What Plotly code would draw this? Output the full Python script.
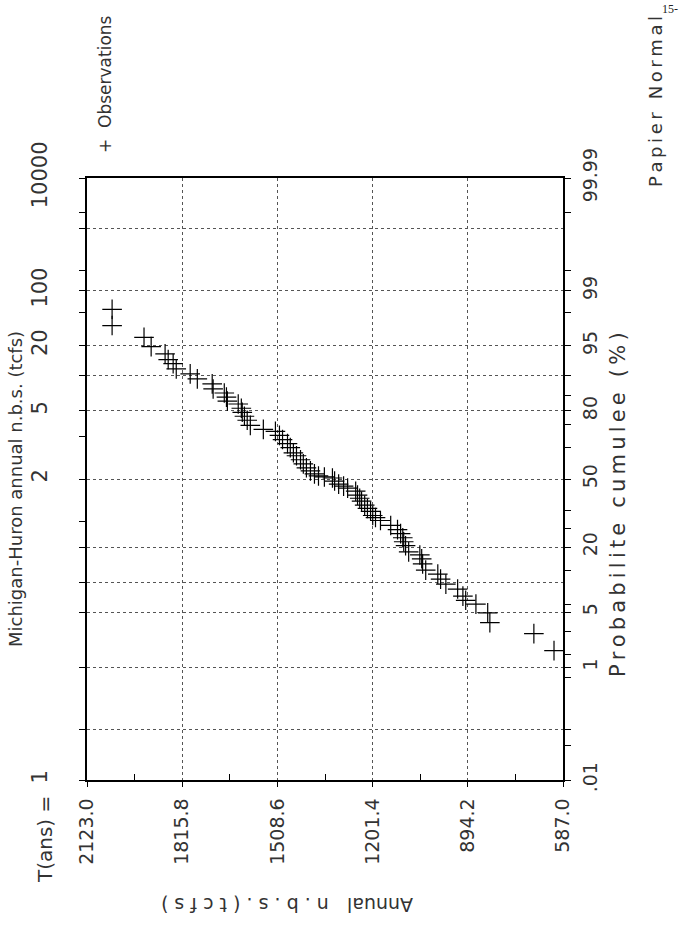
import plotly.graph_objects as go
from statistics import NormalDist

# ---------------- data ----------------
nbs_values = [2042, 2042, 1939, 1916, 1871, 1861, 1845, 1835, 1790, 1767,
              1719, 1716, 1680, 1673, 1670, 1635, 1625, 1622, 1615, 1606,
              1596, 1554, 1515, 1502, 1492, 1476, 1467, 1457, 1447, 1434,
              1425, 1415, 1402, 1389, 1376, 1357, 1331, 1324, 1311, 1295,
              1282, 1256, 1250, 1243, 1237, 1227, 1218, 1208, 1201, 1192,
              1176, 1143, 1121, 1111, 1104, 1101, 1095, 1085, 1049, 1043,
              1040, 1030, 991, 982, 965, 927, 910, 901, 868, 830,
              823, 681, 616]
prob_pct = [98.2, 97.1, 96.0, 94.9, 93.9, 93.0, 92.3, 91.3, 90.3, 89.2,
            88.0, 86.7, 85.6, 84.4, 83.2, 82.3, 80.9, 79.5, 78.1, 76.6,
            74.6, 73.0, 72.2, 70.5, 68.7, 66.9, 65.1, 62.7, 61.3, 59.4,
            57.4, 55.5, 54.0, 52.5, 51.5, 51.0, 50.5, 49.0, 47.5, 46.5,
            45.5, 44.0, 42.1, 40.6, 39.2, 37.3, 35.8, 34.5, 32.6, 31.7,
            30.4, 28.3, 26.6, 25.0, 23.4, 21.9, 20.5, 18.4, 17.4, 16.2,
            14.7, 13.0, 12.0, 10.8, 9.7, 8.7, 7.4, 6.7, 6.1, 4.9,
            3.8, 2.8, 1.7]

x_ticks = [2123.0, 1815.8, 1508.6, 1201.4, 894.2, 587.0]
prob_labels = [99.99, 99, 95, 80, 50, 20, 5, 1, 0.01]
prob_label_text = ["99.99", "99", "95", "80", "50", "20", "5", "1", ".01"]
prob_grid = [99.9, 99, 95, 90, 80, 50, 20, 10, 5, 1, 0.1]
prob_minor = [99.95, 99.5, 98, 90, 85, 75, 65, 35, 27, 13, 6, 3, 1.5, 0.7, 0.1, 0.05]
T_text = ["10000", "100", "20", "5", "2", "1"]
T_prob = [99.99, 99, 95, 80, 50, 0.01]
T_minor = [99.95, 99.9, 99.5, 98, 90, 70, 30, 20, 10, 5, 1, 0.1]

nd = NormalDist()
def z(p):
    return nd.inv_cdf(p / 100.0)

def spaced(s):
    return "\u2009".join(s)

ZMAX = z(99.99)
FONT = "DejaVu Sans"
TXT = "#333333"
GRID = "#555555"

fig = go.Figure()
fig.add_trace(go.Scatter(
    x=nbs_values, y=[z(p) for p in prob_pct], mode="markers",
    marker=dict(symbol="cross-thin", size=14, color="black",
                line=dict(width=1.2, color="black")),
    showlegend=False, yaxis="y"))
fig.add_trace(go.Scatter(x=[], y=[], yaxis="y2", showlegend=False))
fig.add_trace(go.Scatter(x=[], y=[], yaxis="y3", showlegend=False))

L, R, T, B = 87, 563, 178, 780
def px(xp):
    return (xp - L) / (R - L)
def py(yp):
    return (B - yp) / (B - T)

fig.update_layout(
    width=680, height=940,
    margin=dict(l=L, r=680 - R, t=T, b=940 - B),
    paper_bgcolor="white", plot_bgcolor="white",
    font=dict(family=FONT, size=19, color=TXT),
    xaxis=dict(
        range=[2123.0, 587.0], tickvals=x_ticks,
        ticktext=[f"{v:.1f}" for v in x_ticks], tickangle=-90,
        tickfont=dict(size=19),
        showgrid=True, gridcolor=GRID, griddash="dot", gridwidth=1,
        showline=True, linecolor="black", linewidth=1.5, mirror=True,
        ticks="outside", ticklen=5, tickcolor="black", zeroline=False,
        minor=dict(tickvals=[(x_ticks[i] + x_ticks[i + 1]) / 2 for i in range(5)],
                   ticks="inside", ticklen=6, tickcolor="black", showgrid=False),
        ticklabelstandoff=4,
    ),
    yaxis=dict(
        range=[-ZMAX, ZMAX], side="right",
        tickvals=[z(p) for p in prob_labels], ticktext=prob_label_text,
        tickangle=-90, tickfont=dict(size=19), showgrid=False, zeroline=False,
        showline=True, linecolor="black", linewidth=1.5,
        ticks="outside", ticklen=6, tickcolor="black",
        minor=dict(tickvals=[z(p) for p in prob_minor], ticks="outside",
                   ticklen=6, tickcolor="black", showgrid=False),
        ticklabelstandoff=3,
    ),
    yaxis2=dict(
        range=[-ZMAX, ZMAX], side="left", overlaying="y",
        tickvals=[z(p) for p in T_prob], ticktext=T_text,
        tickangle=-90, tickfont=dict(size=21), showgrid=False, zeroline=False,
        showline=True, linecolor="black", linewidth=1.5,
        ticks="outside", ticklen=6, tickcolor="black",
        minor=dict(tickvals=[z(p) for p in T_minor], ticks="outside",
                   ticklen=6, tickcolor="black", showgrid=False),
        ticklabelstandoff=24,
    ),
    yaxis3=dict(
        range=[-ZMAX, ZMAX], overlaying="y", side="left",
        tickvals=[z(p) for p in prob_grid], showticklabels=False,
        showgrid=True, gridcolor=GRID, griddash="dot", gridwidth=1,
        zeroline=False, showline=False, ticks="",
    ),
)

ann = [
    ("Michigan-Huron annual n.b.s. (tcfs)", 15, 489, -90, 18),
    ("T(ans) =", 45, 840, -90, 20),
    ("+  Observations", 105, 84, -90, 17),
    (spaced("Papier Normal"), 655, 102, -90, 18),
    (spaced("Probabilite cumulee (%)"), 618, 505, -90, 21),
    ("Annual   n . b . s . ( t c f s )", 287, 905, 180, 19),
]
for text, xp, yp, ang, sz in ann:
    fig.add_annotation(text=text, xref="paper", yref="paper", x=px(xp), y=py(yp),
                       xanchor="center", yanchor="middle", textangle=ang,
                       showarrow=False, font=dict(family=FONT, size=sz, color=TXT))
fig.add_annotation(text="15-", xref="paper", yref="paper", x=px(670), y=py(9),
                   xanchor="center", yanchor="middle", showarrow=False,
                   font=dict(family="Liberation Serif", size=12, color="#222"))

fig.write_html("out.html")
